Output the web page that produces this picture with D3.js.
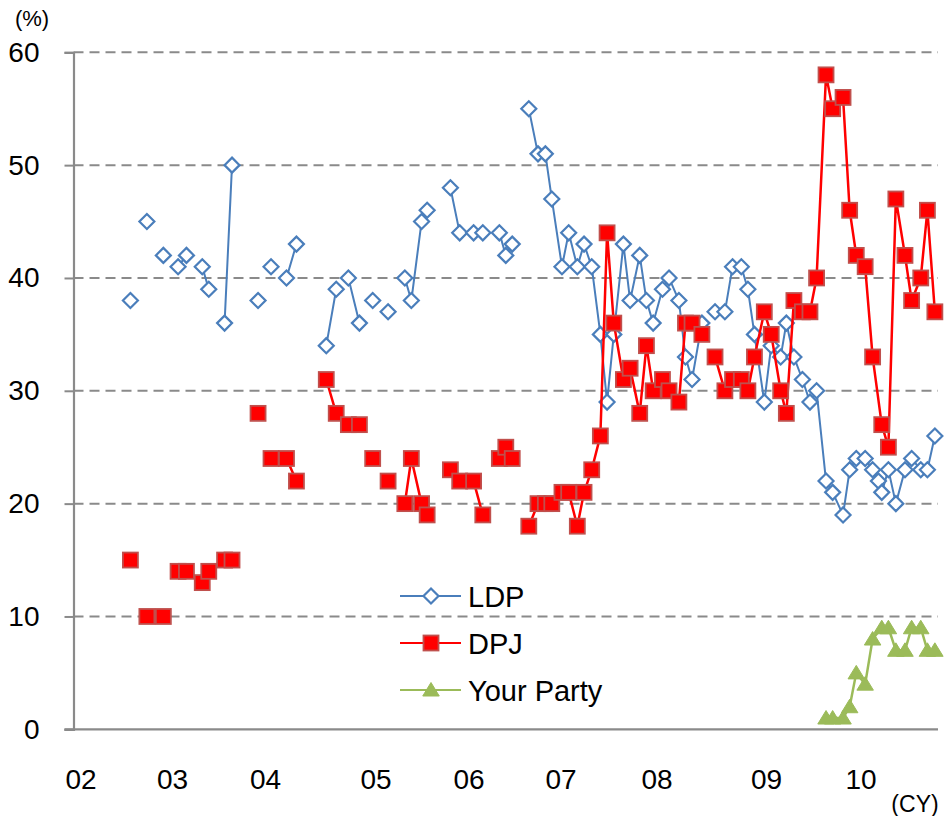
<!DOCTYPE html>
<html>
<head>
<meta charset="utf-8">
<script src="https://cdn.jsdelivr.net/npm/d3@7"></script>
<style>
  body { margin: 0; background: #fff; }
  svg { display: block; font-family: "Liberation Sans", Arial, sans-serif; }
</style>
</head>
<body>
<svg></svg>
<script>
// survey dates as decimal years, one per poll
let surveyDates = [2002.54, 2002.72, 2002.90,
  2003.06, 2003.15, 2003.32, 2003.39, 2003.56, 2003.64, 2003.92,
  2004.05, 2004.19, 2004.28, 2004.55, 2004.64, 2004.75, 2004.85, 2004.97,
  2005.13, 2005.31, 2005.38, 2005.49, 2005.55, 2005.80, 2005.90,
  2006.05, 2006.15, 2006.33, 2006.40, 2006.47, 2006.65, 2006.75, 2006.83, 2006.90,
  2007.01, 2007.08, 2007.17, 2007.24, 2007.32, 2007.41, 2007.48, 2007.55, 2007.65, 2007.72, 2007.82, 2007.89, 2007.96,
  2008.05, 2008.11, 2008.20, 2008.26, 2008.32, 2008.41, 2008.53, 2008.62, 2008.69, 2008.77, 2008.83, 2008.89, 2008.98,
  2009.05, 2009.15, 2009.21, 2009.29, 2009.38, 2009.46, 2009.53, 2009.63, 2009.70, 2009.81, 2009.88, 2009.95,
  2010.05, 2010.14, 2010.21, 2010.25, 2010.33, 2010.42, 2010.53, 2010.61, 2010.72, 2010.80, 2010.89]

// null = party not in that poll
let ldp = [38, 45, 42,
  41, 42, 41, 39, 36, 50, 38,
  41, 40, 43, 34, 39, 40, 36, 38,
  37, 40, 38, 45, 46, 48, 44,
  44, 44, 44, 42, 43, 55, 51, 51, 47,
  41, 44, 41, 43, 41, 35, 29, 35, 43, 38, 42, 38, 36,
  39, 40, 38, 33, 31, 36, 37, 37, 41, 41, 39, 35, 29,
  34, 33, 36, 33, 31, 29, 30, 22, 21, 19, 23, 24,
  24, 23, 22, 21, 23, 20, 23, 24, 23, 23, 26]

let dpj = [15, 10, 10,
  14, 14, 13, 14, 15, 15, 28,
  24, 24, 22, 31, 28, 27, 27, 24,
  22, 20, 24, 20, 19, 23, 22,
  22, 19, 24, 25, 24, 18, 20, 20, 20,
  21, 21, 18, 21, 23, 26, 44, 36, 31, 32, 28, 34, 30,
  31, 30, 29, 36, 36, 35, 33, 30, 31, 31, 30, 33, 37,
  35, 30, 28, 38, 37, 37, 40, 58, 55, 56, 46, 42,
  41, 33, null, 27, 25, 47, 42, 38, 40, 46, 37]

let yourParty = [null, null, null,
  null, null, null, null, null, null, null,
  null, null, null, null, null, null, null, null,
  null, null, null, null, null, null, null,
  null, null, null, null, null, null, null, null, null,
  null, null, null, null, null, null, null, null, null, null, null, null, null,
  null, null, null, null, null, null, null, null, null, null, null, null, null,
  null, null, null, null, null, null, null, 1, 1, 1, 2, 5,
  4, 8, null, 9, 9, 7, 7, 9, 9, 7, 7]

// polls (1-based) not joined to the one before
let breaksBefore = [2, 3, 4, 6, 8, 10, 11, 12, 14, 16, 18, 19, 20, 24, 28, 31, 54]

let years = [2002, 2003, 2004, 2005, 2006, 2007, 2008, 2009, 2010, 2011]
let yearLabels = ['02', '03', '04', '05', '06', '07', '08', '09', '10']
let yTicks = [0, 10, 20, 30, 40, 50, 60]
let seriesNames = ['LDP', 'DPJ', 'Your Party']

let width = 947
let height = 816
let plotLeft = 73.5
let plotRight = 938
let plotTop = 52.3
let plotBottom = 729.3

let svg = d3.select('svg').attr('width', width).attr('height', height)

// year labels on the original are unevenly spread, so the year scale is piecewise
let xScale = d3.scaleLinear()
  .domain(years)
  .range([81, 172.5, 265.5, 376, 469, 561, 657, 766.5, 861, 944])

let yScale = d3.scaleLinear().domain([0, 60]).range([plotBottom, plotTop])

let grey = '#8a8a8a'

// gridlines
svg.append('g')
  .selectAll('line')
  .data(yTicks.filter(d => d > 0))
  .enter()
  .append('line')
  .attr('x1', plotLeft).attr('x2', plotRight)
  .attr('y1', d => yScale(d)).attr('y2', d => yScale(d))
  .attr('stroke', grey)
  .attr('stroke-width', 2)
  .attr('stroke-dasharray', '10,6')

// y axis
let yAxis = d3.axisLeft(yScale).tickValues(yTicks).tickSize(9).tickPadding(25)
let gy = svg.append('g').attr('transform', 'translate(' + plotLeft + ',0)').call(yAxis)
gy.select('.domain').attr('stroke', grey).attr('stroke-width', 2.2)
gy.selectAll('.tick line').attr('stroke', grey).attr('stroke-width', 2)
gy.selectAll('.tick text').attr('font-size', 28).attr('fill', '#000')
  .attr('font-family', '"Liberation Sans", Arial, sans-serif')

// x axis line
svg.append('line')
  .attr('x1', plotLeft - 9).attr('x2', plotRight)
  .attr('y1', plotBottom).attr('y2', plotBottom)
  .attr('stroke', grey).attr('stroke-width', 2.2)

svg.append('g')
  .selectAll('text')
  .data(yearLabels)
  .enter()
  .append('text')
  .attr('x', (d, i) => xScale(years[i]))
  .attr('y', 789)
  .attr('text-anchor', 'middle')
  .attr('font-size', 28)
  .text(d => d)

svg.append('text').attr('x', 915).attr('y', 812).attr('text-anchor', 'middle')
  .attr('font-size', 23).text('(CY)')
svg.append('text').attr('x', 32).attr('y', 26).attr('text-anchor', 'middle')
  .attr('font-size', 22).text('(%)')

// polls missing a party are skipped; only listed breaks split the line
let toPoints = (values) => {
  let pts = []
  values.forEach((v, i) => {
    if (breaksBefore.includes(i + 1)) pts.push({ t: null, v: null })
    if (v != null) pts.push({ t: surveyDates[i], v: v })
  })
  return pts
}

let line = d3.line()
  .defined(d => d.v != null)
  .x(d => xScale(d.t))
  .y(d => yScale(d.v))

let diamond = (s) => 'M0,' + (-s) + 'L' + s + ',0L0,' + s + 'L' + (-s) + ',0Z'
let triangle = (s) => 'M0,' + (-s) + 'L' + (s * 1.1) + ',' + (s * 0.8) + 'L' + (-s * 1.1) + ',' + (s * 0.8) + 'Z'

let series = [
  { name: 'LDP', values: ldp, color: '#4a7ebb', width: 2, marker: 'diamond' },
  { name: 'DPJ', values: dpj, color: '#ff0000', width: 2.5, marker: 'square' },
  { name: 'Your Party', values: yourParty, color: '#9bbb59', width: 2.5, marker: 'triangle' }
]

let drawMarker = (sel, s) => {
  if (s.marker === 'diamond') {
    sel.append('path').attr('d', diamond(7.5))
      .attr('fill', '#fff').attr('stroke', s.color).attr('stroke-width', 2.2)
  } else if (s.marker === 'square') {
    sel.append('rect').attr('x', -7.5).attr('y', -7.5).attr('width', 15).attr('height', 15)
      .attr('fill', '#ff0000').attr('stroke', '#c0504d').attr('stroke-width', 1.8)
  } else {
    sel.append('path').attr('d', triangle(7.5))
      .attr('fill', s.color).attr('stroke', s.color).attr('stroke-width', 1)
  }
}

series.forEach(s => {
  let pts = toPoints(s.values)
  svg.append('path')
    .datum(pts)
    .attr('fill', 'none')
    .attr('stroke', s.color)
    .attr('stroke-width', s.width)
    .attr('stroke-linejoin', 'round')
    .attr('d', line)

  svg.append('g')
    .selectAll('g')
    .data(pts.filter(d => d.v != null))
    .enter()
    .append('g')
    .attr('transform', d => 'translate(' + xScale(d.t) + ',' + yScale(d.v) + ')')
    .each(function () { drawMarker(d3.select(this), s) })
})

// legend
let legend = svg.append('g')
series.forEach((s, i) => {
  let ly = 596 + i * 47
  legend.append('line')
    .attr('x1', 400).attr('x2', 461).attr('y1', ly).attr('y2', ly)
    .attr('stroke', s.color).attr('stroke-width', 2)
  let m = legend.append('g').attr('transform', 'translate(431,' + ly + ')')
  drawMarker(m, s)
  legend.append('text')
    .attr('x', 468).attr('y', ly + 11)
    .attr('font-size', 29)
    .text(seriesNames[i])
})
</script>
</body>
</html>
